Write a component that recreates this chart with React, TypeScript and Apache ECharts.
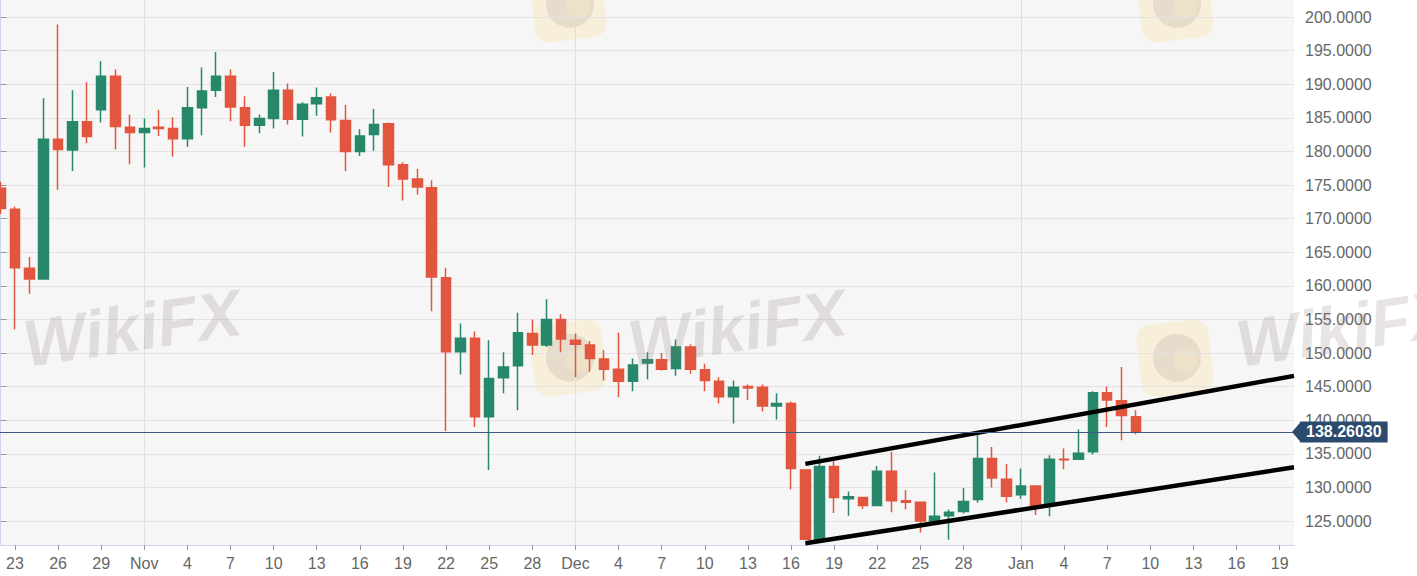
import React, { useEffect, useRef } from 'react';
import * as echarts from 'echarts';

// ---- data (ETH daily candles) ----
const dates: string[] = [
  '2019-10-22', '2019-10-23', '2019-10-24', '2019-10-25', '2019-10-26', '2019-10-27', '2019-10-28', '2019-10-29', '2019-10-30', '2019-10-31',
  '2019-11-01', '2019-11-02', '2019-11-03', '2019-11-04', '2019-11-05', '2019-11-06', '2019-11-07', '2019-11-08', '2019-11-09', '2019-11-10',
  '2019-11-11', '2019-11-12', '2019-11-13', '2019-11-14', '2019-11-15', '2019-11-16', '2019-11-17', '2019-11-18', '2019-11-19', '2019-11-20',
  '2019-11-21', '2019-11-22', '2019-11-23', '2019-11-24', '2019-11-25', '2019-11-26', '2019-11-27', '2019-11-28', '2019-11-29', '2019-11-30',
  '2019-12-01', '2019-12-02', '2019-12-03', '2019-12-04', '2019-12-05', '2019-12-06', '2019-12-07', '2019-12-08', '2019-12-09', '2019-12-10',
  '2019-12-11', '2019-12-12', '2019-12-13', '2019-12-14', '2019-12-15', '2019-12-16', '2019-12-17', '2019-12-18', '2019-12-19', '2019-12-20',
  '2019-12-21', '2019-12-22', '2019-12-23', '2019-12-24', '2019-12-25', '2019-12-26', '2019-12-27', '2019-12-28', '2019-12-29', '2019-12-30',
  '2019-12-31', '2020-01-01', '2020-01-02', '2020-01-03', '2020-01-04', '2020-01-05', '2020-01-06', '2020-01-07', '2020-01-08', '2020-01-09',
];
const opens: number[] = [
  174.5, 171.4, 162.6, 161.0, 181.8, 180.2, 184.4, 186.2, 191.2, 183.6,
  182.8, 183.6, 183.4, 181.9, 186.5, 189.1, 191.2, 186.5, 183.9, 184.9,
  189.1, 184.8, 187.1, 188.1, 184.6, 180.0, 182.5, 184.1, 178.0, 175.9,
  174.6, 161.2, 150.2, 152.2, 140.5, 146.3, 148.1, 152.9, 151.2, 155.0,
  151.9, 151.2, 149.1, 147.6, 145.8, 148.5, 149.0, 147.7, 150.9, 147.5,
  145.8, 143.5, 145.0, 144.9, 142.1, 142.5, 132.6, 122.3, 133.1, 128.3,
  128.5, 127.3, 132.4, 128.0, 127.8, 125.0, 125.8, 126.4, 128.2, 134.3,
  131.2, 128.9, 130.2, 127.3, 134.2, 134.2, 135.3, 144.1, 142.9, 140.5,
];
const closes: number[] = [
  171.5, 162.7, 161.0, 181.8, 180.3, 184.4, 182.2, 191.2, 183.7, 182.8,
  183.4, 183.4, 181.9, 186.5, 189.0, 191.2, 186.6, 183.9, 184.9, 189.1,
  184.8, 187.0, 188.0, 184.7, 180.0, 182.3, 184.0, 178.0, 175.9, 174.7,
  161.3, 150.2, 152.2, 140.5, 146.2, 147.9, 153.0, 151.2, 155.0, 152.1,
  151.3, 149.2, 147.6, 145.8, 148.2, 149.0, 147.6, 150.9, 147.6, 145.9,
  143.5, 144.9, 144.8, 142.1, 142.5, 132.8, 122.3, 133.1, 128.5, 128.6,
  127.3, 132.4, 128.0, 127.8, 125.0, 125.7, 126.3, 127.9, 134.3, 131.4,
  128.7, 130.2, 127.3, 134.2, 134.1, 135.1, 144.1, 143.0, 140.7, 138.3,
];
const lows: number[] = [
  170.7, 153.5, 158.8, 161.0, 174.3, 177.1, 181.2, 184.3, 180.3, 178.1,
  177.6, 182.3, 179.2, 180.7, 182.4, 188.1, 184.5, 180.7, 182.7, 183.4,
  184.0, 182.2, 185.3, 182.8, 177.1, 179.3, 180.1, 174.7, 172.7, 173.6,
  156.2, 138.4, 146.8, 139.0, 132.6, 144.0, 141.5, 149.7, 150.9, 150.1,
  146.4, 147.2, 145.9, 143.4, 144.3, 146.1, 147.4, 146.6, 146.9, 144.3,
  142.5, 139.5, 143.0, 141.3, 140.1, 129.7, 122.2, 122.0, 126.2, 125.8,
  126.8, 127.2, 126.3, 126.7, 123.3, 124.9, 122.2, 126.1, 127.7, 130.0,
  127.8, 128.3, 125.9, 125.7, 132.7, 134.1, 134.9, 139.0, 137.0, 137.9,
];
const highs: number[] = [
  175.5, 171.8, 164.3, 187.9, 198.9, 189.1, 190.3, 193.4, 192.2, 185.5,
  184.9, 186.2, 185.1, 189.6, 192.5, 194.8, 192.2, 188.2, 185.5, 191.8,
  190.1, 187.3, 189.5, 188.6, 186.9, 183.3, 186.3, 184.3, 178.4, 177.4,
  175.7, 162.7, 154.4, 153.2, 151.9, 150.1, 156.0, 155.0, 158.0, 155.8,
  152.9, 151.8, 150.4, 153.0, 149.2, 150.1, 150.0, 152.0, 151.3, 148.4,
  146.4, 145.9, 145.3, 145.3, 144.0, 142.8, 132.7, 134.7, 134.2, 129.4,
  128.6, 133.2, 135.3, 129.6, 127.9, 132.2, 126.7, 129.9, 137.9, 136.0,
  133.5, 132.8, 130.3, 134.8, 135.8, 138.6, 144.3, 145.0, 147.9, 141.5,
];
const lastPrice = 138.2603;
const channelUpper: [string, number][] = [['2019-12-17', 133.5], ['2020-01-20', 146.6]];
const channelLower: [string, number][] = [['2019-12-17', 121.7], ['2020-01-20', 133.0]];
const monthStarts: string[] = ['2019-11-01', '2019-12-01', '2020-01-01'];
const xTickDates: string[] = [
  '2019-10-23', '2019-10-26', '2019-10-29', '2019-11-01', '2019-11-04', '2019-11-07', '2019-11-10', '2019-11-13',
  '2019-11-16', '2019-11-19', '2019-11-22', '2019-11-25', '2019-11-28', '2019-12-01', '2019-12-04', '2019-12-07',
  '2019-12-10', '2019-12-13', '2019-12-16', '2019-12-19', '2019-12-22', '2019-12-25', '2019-12-28', '2020-01-01',
  '2020-01-04', '2020-01-07', '2020-01-10', '2020-01-13', '2020-01-16', '2020-01-19',
];
const xTickLabels: string[] = [
  '23', '26', '29', 'Nov', '4', '7', '10', '13',
  '16', '19', '22', '25', '28', 'Dec', '4', '7',
  '10', '13', '16', '19', '22', '25', '28', 'Jan',
  '4', '7', '10', '13', '16', '19',
];
const yTicks: number[] = [125, 130, 135, 140, 145, 150, 155, 160, 165, 170, 175, 180, 185, 190, 195, 200];

// ---- helpers / styles ----
const START = Date.UTC(2019, 9, 22);
const dayIndex = (d: string) => Math.round((Date.parse(d) - START) / 86400000);

const FONT = '"Liberation Sans", Arial, Helvetica, sans-serif';
const UP = '#27876a';
const DOWN = '#e2553e';
const NAVY = '#2c4a6e';

const WM_TEXT = [[132, 328], [737, 328], [1345, 328]];
const WM_LOGO = [[568, 4], [1175, 4], [568, 358], [1175, 358]];

export default function App() {
  const ref = useRef<HTMLDivElement>(null);

  useEffect(() => {
    document.body.style.margin = '0';
    if (!ref.current) return;
    const chart = echarts.init(ref.current, undefined, { renderer: 'svg' });

    const candleData = dates.map((d, i) => [dayIndex(d), opens[i], closes[i], lows[i], highs[i]]);
    const tickIdx = xTickDates.map(dayIndex);
    const labelMap: Record<string, string> = {};
    tickIdx.forEach((v, i) => { labelMap[String(v)] = xTickLabels[i]; });

    const graphics: any[] = [];
    WM_LOGO.forEach(([x, y]) => {
      graphics.push({
        type: 'group', x, y, rotation: 0.12, silent: true, z: 100,
        children: [
          { type: 'rect', shape: { x: -36, y: -36, width: 72, height: 72, r: 14 }, style: { fill: 'rgba(250,215,120,0.22)' } },
          { type: 'circle', shape: { cx: 2, cy: 0, r: 24 }, style: { fill: 'rgba(140,125,125,0.16)' } },
          { type: 'circle', shape: { cx: 10, cy: 4, r: 12 }, style: { fill: 'rgba(250,235,200,0.35)' } },
        ],
      });
    });
    WM_TEXT.forEach(([x, y]) => {
      graphics.push({
        type: 'text', x, y, rotation: 0.15, silent: true, z: 100,
        style: {
          text: 'WikiFX', fill: 'rgba(140,120,120,0.2)',
          font: `italic bold 66px ${FONT}`,
          textAlign: 'center', textVerticalAlign: 'middle', align: 'center', verticalAlign: 'middle',
        },
      });
    });

    const option: any = {
      animation: false,
      backgroundColor: '#ffffff',
      textStyle: { fontFamily: FONT },
      grid: {
        left: 0, right: 123, top: 0, bottom: 31,
        show: true, backgroundColor: '#f6f6f6', borderWidth: 0,
        containLabel: false, outerBoundsMode: 'none',
      },
      xAxis: {
        type: 'value', min: -0.04, max: 90,
        axisLine: { show: true, lineStyle: { color: '#ccd6eb', width: 1 } },
        axisTick: { show: true, customValues: tickIdx, length: 5, lineStyle: { color: '#999999' } },
        axisLabel: {
          customValues: tickIdx, color: '#666666', fontSize: 16, margin: 10, fontFamily: FONT,
          formatter: (v: number) => labelMap[String(Math.round(v))] ?? '',
        },
        splitLine: { show: false },
      },
      yAxis: {
        type: 'value', position: 'right', min: 121.43, max: 202.53, scale: true,
        axisLine: { show: true, lineStyle: { color: '#ccd6eb', width: 1 } },
        axisTick: { show: true, customValues: yTicks, length: 6, lineStyle: { color: '#999999' } },
        axisLabel: {
          customValues: yTicks, color: '#666666', fontSize: 16, margin: 11, fontFamily: FONT,
          formatter: (v: number) => v.toFixed(4),
        },
        splitLine: { show: true, lineStyle: { color: '#e3e3e3', width: 1 } },
      },
      series: [
        {
          type: 'candlestick',
          data: candleData,
          dimensions: ['day', 'open', 'close', 'lowest', 'highest'],
          encode: { x: 0, y: [1, 2, 3, 4] },
          barWidth: 10,
          z: 2,
          itemStyle: { color: UP, color0: DOWN, borderColor: UP, borderColor0: DOWN, borderWidth: 1.5 },
          markLine: {
            z: 1, silent: true, symbol: ['none', 'none'],
            label: { show: false },
            lineStyle: { color: '#e0e0e0', width: 1, type: 'solid' },
            data: monthStarts.map((d) => ({ xAxis: dayIndex(d) })),
          },
          markPoint: {
            silent: true,
            symbol: 'triangle', symbolSize: [21, 9], symbolRotate: 90, symbolOffset: [2.5, 0],
            itemStyle: { color: NAVY },
            label: { show: false },
            data: [{ coord: [90, lastPrice] }],
          },
        },
        {
          type: 'line',
          data: channelUpper.map(([d, v]) => [dayIndex(d), v]),
          symbol: 'none', z: 3,
          lineStyle: { color: '#000000', width: 4.5 },
          markLine: {
            silent: true, symbol: ['none', 'none'],
            lineStyle: { color: '#3d5a80', width: 1, type: 'solid' },
            label: {
              show: true, position: 'end', distance: 6,
              formatter: () => lastPrice.toFixed(5),
              backgroundColor: NAVY, color: '#ffffff', fontWeight: 'bold', fontSize: 16,
              fontFamily: FONT, padding: [2, 6, 2, 6], lineHeight: 17,
            },
            data: [{ yAxis: lastPrice }],
          },
        },
        {
          type: 'line',
          data: channelLower.map(([d, v]) => [dayIndex(d), v]),
          symbol: 'none', z: 3,
          lineStyle: { color: '#000000', width: 4.5 },
        },
      ],
      graphic: { elements: graphics },
    };

    chart.setOption(option);
    return () => chart.dispose();
  }, []);

  return <div ref={ref} style={{ width: 1417, height: 576 }} />;
}
